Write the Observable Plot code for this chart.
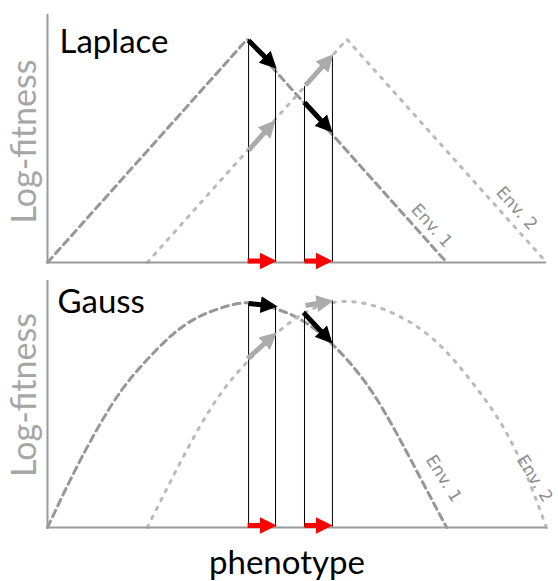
<!DOCTYPE html>
<html>
<head>
<meta charset="utf-8">
<script src="https://cdn.jsdelivr.net/npm/d3@7"></script>
<script src="https://cdn.jsdelivr.net/npm/@observablehq/plot@0.6"></script>
<style>
  html, body { margin: 0; padding: 0; background: #fff; }
  #chart svg { display: block; }
</style>
</head>
<body>
<div id="chart"></div>
<script>
// ---------- data ----------
const envNames = ["Env. 1", "Env. 2"];

// Laplace panel: log-fitness vs phenotype
const laplaceEnv1X = [0, 4, 8];
const laplaceEnv1Y = [0, 0.9, 0];
const laplaceEnv2X = [2, 6, 10];
const laplaceEnv2Y = [0, 0.9, 0];

// Gauss panel
const gaussEnv1X = [0, 0.5, 1, 1.5, 2, 2.5, 3, 3.5, 4, 4.5, 5, 5.5, 6, 6.5, 7, 7.5, 8];
const gaussEnv1Y = [0, 0.21, 0.40, 0.56, 0.68, 0.78, 0.85, 0.89, 0.91, 0.89, 0.85, 0.78, 0.68, 0.55, 0.38, 0.19, 0];
const gaussEnv2X = [2, 2.5, 3, 3.5, 4, 4.5, 5, 5.5, 6, 6.5, 7, 7.5, 8, 8.5, 9, 9.5, 10];
const gaussEnv2Y = [0, 0.20, 0.39, 0.55, 0.67, 0.77, 0.85, 0.90, 0.915, 0.90, 0.86, 0.80, 0.71, 0.59, 0.45, 0.26, 0];

// vertical guides (phenotype before / after a shift)
const guideX = [4.03, 4.57, 5.15, 5.71];
const laplaceGuideTop = [0.9, 0.78, 0.71, 0.835];
const gaussGuideTop = [0.907, 0.891, 0.874, 0.919];

// fitness-change arrows
const arrowEnv = ["Env. 1", "Env. 2", "Env. 2", "Env. 1"];
const laplaceArrowX1 = [4.03, 4.03, 5.17, 5.15];
const laplaceArrowY1 = [0.895, 0.452, 0.714, 0.645];
const laplaceArrowX2 = [4.52, 4.50, 5.66, 5.64];
const laplaceArrowY2 = [0.796, 0.558, 0.824, 0.539];
const gaussArrowX1 = [4.03, 4.01, 5.17, 5.13];
const gaussArrowY1 = [0.907, 0.684, 0.899, 0.870];
const gaussArrowX2 = [4.51, 4.52, 5.63, 5.64];
const gaussArrowY2 = [0.897, 0.776, 0.915, 0.760];

// phenotype shift arrows (on the axis)
const shiftX1 = [4.01, 5.15];
const shiftX2 = [4.49, 5.61];

// ---------- drawing ----------
const SVGNS = "http://www.w3.org/2000/svg";
function triangleMarker(color, context) {
  const doc = (context && context.document) || document;
  const m = doc.createElementNS(SVGNS, "marker");
  m.setAttribute("viewBox", "-5 -5 10 10");
  m.setAttribute("markerWidth", 3.4);
  m.setAttribute("markerHeight", 3.4);
  m.setAttribute("refX", 2);
  m.setAttribute("refY", 0);
  m.setAttribute("orient", "auto");
  m.setAttribute("markerUnits", "strokeWidth");
  const p = doc.createElementNS(SVGNS, "path");
  p.setAttribute("d", "M-5,-5L5,0L-5,5Z");
  p.setAttribute("fill", color);
  p.setAttribute("stroke", "none");
  m.appendChild(p);
  return m;
}

const zip = (xs, ys) => xs.map((x, i) => ({x, y: ys[i]}));

function panel(cfg) {
  const env1 = zip(cfg.env1X, cfg.env1Y);
  const env2 = zip(cfg.env2X, cfg.env2Y);
  const guides = guideX.map((x, i) => ({x, top: cfg.guideTop[i]}));
  const arrows = arrowEnv.map((env, i) => ({
    env, x1: cfg.ax1[i], y1: cfg.ay1[i], x2: cfg.ax2[i], y2: cfg.ay2[i]
  }));
  const shifts = shiftX1.map((x1, i) => ({x1, x2: shiftX2[i]}));
  const labels = envNames.map((name, i) => ({name, x: cfg.labelX[i], y: cfg.labelY[i]}));
  const marks = [
    Plot.line(env1, {x: "x", y: "y", stroke: "#979797", strokeWidth: 3, strokeDasharray: "7,5", curve: cfg.curve}),
    Plot.line(env2, {x: "x", y: "y", stroke: "#bababa", strokeWidth: 3, strokeDasharray: "2.5,7.5", curve: cfg.curve}),
    Plot.ruleX(guides, {x: "x", y1: 0, y2: "top", stroke: "#000", strokeWidth: 1}),
    Plot.ruleY([0], {stroke: "#9a9a9a", strokeWidth: 2}),
    Plot.ruleX([0], {stroke: "#9a9a9a", strokeWidth: 2}),
    Plot.link(arrows.filter(d => d.env === "Env. 2"), {x1: "x1", y1: "y1", x2: "x2", y2: "y2", stroke: "#ababab", strokeWidth: 5, markerEnd: triangleMarker}),
    Plot.link(arrows.filter(d => d.env === "Env. 1"), {x1: "x1", y1: "y1", x2: "x2", y2: "y2", stroke: "#000000", strokeWidth: 5, markerEnd: triangleMarker}),
    Plot.link(shifts, {x1: "x1", x2: "x2", y1: cfg.shiftY, y2: cfg.shiftY, stroke: "#ff0000", strokeWidth: 5, markerEnd: triangleMarker}),
    Plot.text(labels, {x: "x", y: "y", text: "name", rotate: cfg.labelRotate, fontFamily: "DejaVu Sans", fontSize: 17, fill: "#8e8e8e"}),
    Plot.text([cfg.title], {frameAnchor: "top-left", dx: cfg.titleDx, dy: cfg.titleDy, textAnchor: "start", lineAnchor: "bottom", fontSize: 33, fontFamily: "Lato", fill: "#000"}),
    Plot.text(["Log-fitness"], {frameAnchor: "left", dx: -12, dy: cfg.ylabDy, rotate: -90, textAnchor: "middle", lineAnchor: "bottom", fontSize: 34, fontFamily: "Lato", fill: "#a6a6a6"})
  ];
  if (cfg.xLabel) {
    marks.push(Plot.text([cfg.xLabel], {frameAnchor: "bottom", dx: -10, dy: 46, textAnchor: "middle", lineAnchor: "bottom", fontSize: 33, fontFamily: "Lato", fill: "#000"}));
  }
  return Plot.plot({
    width: 558,
    height: cfg.height,
    marginTop: cfg.marginTop,
    marginBottom: cfg.marginBottom,
    marginLeft: 47,
    marginRight: 12,
    x: {domain: [0, 10], axis: null},
    y: {domain: [0, 1], axis: null},
    style: {fontFamily: "Lato", background: "#fff", overflow: "visible"},
    marks
  });
}

const chart = document.getElementById("chart");
chart.appendChild(panel({
  title: "Laplace",
  env1X: laplaceEnv1X, env1Y: laplaceEnv1Y, env2X: laplaceEnv2X, env2Y: laplaceEnv2Y,
  curve: "linear",
  guideTop: laplaceGuideTop,
  ax1: laplaceArrowX1, ay1: laplaceArrowY1, ax2: laplaceArrowX2, ay2: laplaceArrowY2,
  shiftY: 0.006,
  labelX: [7.70, 9.40], labelY: [0.149, 0.218], labelRotate: 48,
  titleDx: 12, titleDy: 38, ylabDy: 3,
  height: 270, marginTop: 14, marginBottom: 8
}));
chart.appendChild(panel({
  title: "Gauss",
  env1X: gaussEnv1X, env1Y: gaussEnv1Y, env2X: gaussEnv2X, env2Y: gaussEnv2Y,
  curve: "natural",
  guideTop: gaussGuideTop,
  ax1: gaussArrowX1, ay1: gaussArrowY1, ax2: gaussArrowX2, ay2: gaussArrowY2,
  shiftY: 0.008,
  labelX: [7.94, 9.76], labelY: [0.198, 0.198], labelRotate: 58,
  titleDx: 10, titleDy: 32, ylabDy: -9,
  height: 311, marginTop: 10, marginBottom: 54,
  xLabel: "phenotype"
}));
</script>
</body>
</html>
